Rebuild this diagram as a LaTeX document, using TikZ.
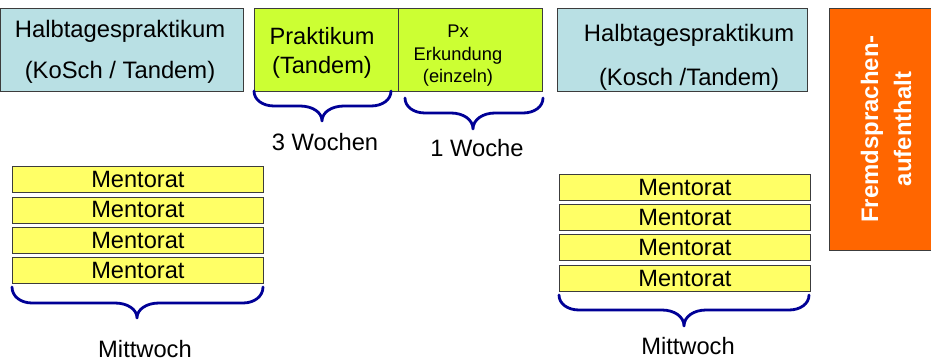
\documentclass[tikz,border=0pt]{standalone}
\usepackage{fontspec}
\setmainfont{Liberation Sans}
\definecolor{boxblue}{RGB}{185,224,228}
\definecolor{lime}{RGB}{204,255,51}
\definecolor{mentyellow}{RGB}{255,255,102}
\definecolor{orangebox}{RGB}{255,102,0}
\definecolor{bracenavy}{RGB}{0,0,150}
\definecolor{edgegray}{RGB}{60,60,60}
% #1 left x, #2 right x, #3 tip x, #4 top y, #5 middle y, #6 tip y
\newcommand\mybrace[6]{%
  \draw[bracestyle] (#1,#4)
    .. controls (#1,#4+0.6*#5-0.6*#4) and (#1+9,#5) .. (#1+20,#5)
    -- (#3-22,#5)
    .. controls (#3-10,#5) and (#3,#5+0.4*#6-0.4*#5) .. (#3,#6)
    .. controls (#3,#5+0.4*#6-0.4*#5) and (#3+10,#5) .. (#3+22,#5)
    -- (#2-20,#5)
    .. controls (#2-9,#5) and (#2,#4+0.6*#5-0.6*#4) .. (#2,#4);}
\begin{document}
\begin{tikzpicture}[x=1pt,y=-1pt,
  boxbase/.style={draw=edgegray, line width=0.8pt, anchor=north west, inner sep=0pt},
  bluebox/.style={boxbase, fill=boxblue},
  limebox/.style={boxbase, fill=lime},
  mentbox/.style={boxbase, fill=mentyellow, minimum width=251pt, minimum height=26pt,
    font=\fontsize{23.6}{26}\selectfont},
  bigtext/.style={align=center, inner sep=0pt},
  bracestyle/.style={draw=bracenavy, line width=2.8pt, line cap=round, line join=round},
  label/.style={anchor=base, inner sep=0pt, font=\fontsize{23.7}{26}\selectfont}]
\useasboundingbox (0,0) rectangle (931,361);
% top row boxes
\node[bluebox, minimum width=243pt, minimum height=83pt] (hl) at (0,8) {};
\node[limebox, minimum width=144pt, minimum height=83pt] (pr) at (254,8) {};
\node[limebox, minimum width=144pt, minimum height=83pt] (px) at (398,8) {};
\node[bluebox, minimum width=250pt, minimum height=83pt] (hr) at (557,8) {};
\node[boxbase, fill=orangebox, minimum width=110pt, minimum height=242pt] (fs) at (829,8) {};
% texts in top boxes
\node[bigtext, font=\fontsize{23.8}{41.5}\selectfont] (hlt) at (120,52) {Halbtagespraktikum\\(KoSch / Tandem)};
\node[bigtext, font=\fontsize{23.6}{29}\selectfont] (prt) at (322,53) {Praktikum\\(Tandem)};
\node[bigtext, font=\fontsize{18.3}{22.5}\selectfont] (pxt) at (458,56) {Px\\Erkundung\\(einzeln)};
\node[bigtext, font=\fontsize{23.8}{44}\selectfont] (hrt) at (689,57) {Halbtagespraktikum\\(Kosch /Tandem)};
\node[bigtext, rotate=90, text=white, font=\fontsize{23.9}{33}\selectfont\bfseries] (fst) at (886,129) {Fremdsprachen-\\aufenthalt};
% Mentorat stacks
\node[mentbox] (ml1) at (12,166) {Mentorat};
\node[mentbox] (ml2) at (12,196.5) {Mentorat};
\node[mentbox] (ml3) at (12,227) {Mentorat};
\node[mentbox] (ml4) at (12,257) {Mentorat};
\node[mentbox, minimum height=25.5pt] (mr1) at (559,174) {Mentorat};
\node[mentbox] (mr2) at (559,204) {Mentorat};
\node[mentbox] (mr3) at (559,234) {Mentorat};
\node[mentbox] (mr4) at (559,265) {Mentorat};
% braces
\mybrace{254}{391}{322}{91}{106}{121}
\mybrace{405}{543}{473}{98}{113}{129}
\mybrace{12}{263}{137}{287}{303}{318}
\mybrace{559}{809}{684}{295}{310}{326}
% labels
\node[label] (w3) at (325,150) {3 Wochen};
\node[label] (w1) at (477,156) {1 Woche};
\node[label] (mwl) at (145,357.5) {Mittwoch};
\node[label] (mwr) at (688,354) {Mittwoch};
\end{tikzpicture}
\end{document}
